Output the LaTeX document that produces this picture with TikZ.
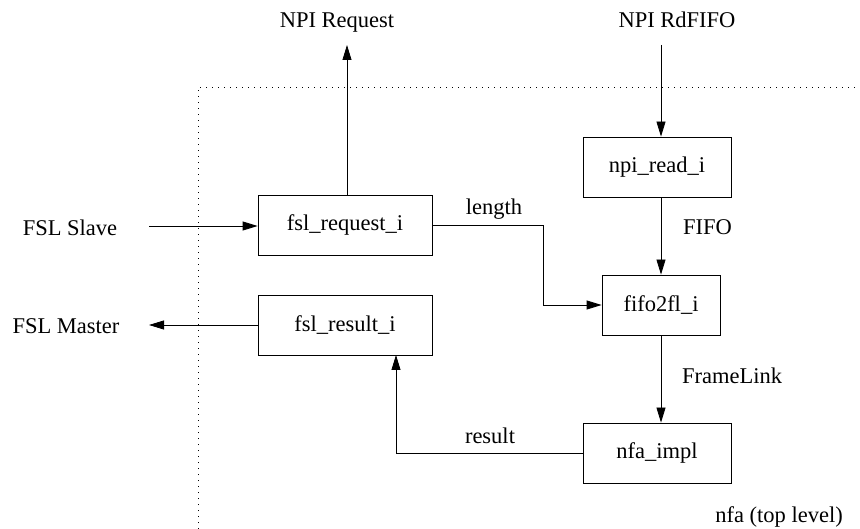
\documentclass[tikz,border=0pt]{standalone}
\usepackage{fontspec}
\setmainfont{Liberation Serif}
\usetikzlibrary{arrows.meta}
\begin{document}
\begin{tikzpicture}[x=1pt,y=-1pt,
  font=\fontsize{22.5}{26}\selectfont,
  block/.style={draw, line width=0.8pt, minimum height=60pt, inner sep=0pt},
  conn/.style={line width=0.8pt, -{Triangle[length=15pt,width=9pt]}},
  lbl/.style={inner sep=0pt, anchor=base}]
\useasboundingbox (0,0) rectangle (860,529);

% design boundary
\draw[line width=0.8pt, dash pattern=on 1pt off 5pt] (198,529) -- (198,87) -- (860,87);
\node[lbl, anchor=base east] (top) at (843,522) {nfa (top level)};

% blocks
\node[block, minimum width=174pt] (req) at (345,225) {fsl\_request\_i};
\node[block, minimum width=174pt] (res) at (345,325) {fsl\_result\_i};
\node[block, minimum width=148pt] (npi) at (657,167) {npi\_read\_i};
\node[block, minimum width=118pt] (fifo) at (661,305) {fifo2fl\_i};
\node[block, minimum width=148pt] (nfa) at (657,453) {nfa\_impl};

% external ports
\node[lbl] (npireq) at (337,28) {NPI Request};
\node[lbl] (npird) at (677,28) {NPI RdFIFO};
\node[lbl] (slave) at (70,236) {FSL Slave};
\node[lbl] (master) at (66,334) {FSL Master};
\coordinate (reqtop) at (347,45);
\coordinate (rdtop) at (661,45);
\coordinate (slvend) at (149,226);
\coordinate (mstend) at (149,325);

% connectors
\draw[conn] (req.north -| reqtop) -- (reqtop);
\draw[conn] (rdtop) -- (rdtop |- npi.north);
\draw[conn] (slvend) -- (req.west |- slvend);
\draw[conn] (res.west) -- (mstend);
\draw[conn] (npi.south -| fifo.north) -- (fifo.north);
\draw[conn] (fifo.south) -- (fifo.south |- nfa.north);
\draw[conn] (req.east) -| (543,305) -- (fifo.west);
\draw[conn] (nfa.west) -| (396,355);

% signal labels
\node[lbl] (len) at (494,215) {length};
\node[lbl, anchor=base west] (ff) at (683,235) {FIFO};
\node[lbl, anchor=base west] (fl) at (682,384) {FrameLink};
\node[lbl] (rs) at (490,443) {result};
\end{tikzpicture}
\end{document}
